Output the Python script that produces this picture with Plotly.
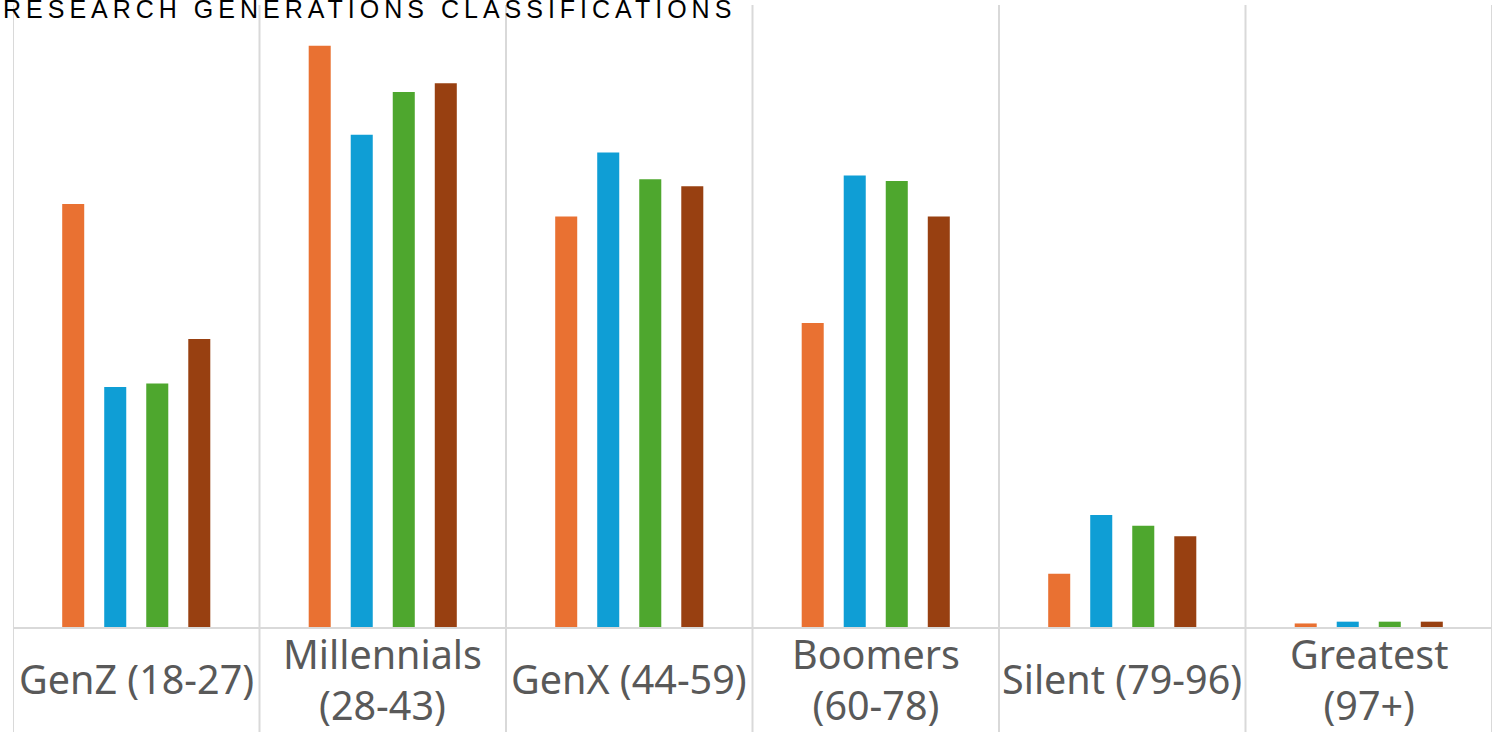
import plotly.graph_objects as go

categories = ["GenZ (18-27)", "Millennials (28-43)", "GenX (44-59)",
              "Boomers (60-78)", "Silent (79-96)", "Greatest (97+)"]
tick_labels = ["GenZ (18-27)", "Millennials<br>(28-43)", "GenX (44-59)",
               "Boomers<br>(60-78)", "Silent (79-96)", "Greatest<br>(97+)"]

series_names = ["Series 1", "Series 2", "Series 3", "Series 4"]
series_1 = [23.8, 32.7, 23.1, 17.1, 3.0, 0.2]
series_2 = [13.5, 27.7, 26.7, 25.4, 6.3, 0.3]
series_3 = [13.7, 30.1, 25.2, 25.1, 5.7, 0.3]
series_4 = [16.2, 30.6, 24.8, 23.1, 5.1, 0.3]
colors = ["#E97132", "#0F9ED5", "#4EA72E", "#984011"]

title_text = "RESEARCH GENERATIONS CLASSIFICATIONS"

fig = go.Figure()
for name, vals, col in zip(series_names, [series_1, series_2, series_3, series_4], colors):
    fig.add_trace(go.Bar(x=categories, y=vals, name=name, marker_color=col,
                         marker_line_width=0))

grid_color = "#D9D9D9"
shapes = []
for i in range(len(categories) + 1):
    shapes.append(dict(type="line", xref="x", yref="paper",
                       x0=i - 0.5, x1=i - 0.5, y0=-0.3, y1=1,
                       line=dict(color=grid_color, width=2), layer="below"))

annotations = []
for cat, lab in zip(categories, tick_labels):
    annotations.append(dict(x=cat, xref="x", yref="paper", y=0, yshift=-52,
                            xanchor="center", yanchor="middle", showarrow=False,
                            text=lab, align="center",
                            font=dict(family="Noto Sans", size=39.5, color="#595959")))
annotations.append(dict(xref="paper", yref="paper", x=(738 - 13) / 1479, y=1,
                        yshift=12, xanchor="right", yanchor="top", showarrow=False,
                        text='<span style="letter-spacing:5px">' + title_text + '</span>',
                        font=dict(family="Liberation Sans, Arial", size=25, color="#000000")))

fig.update_layout(
    width=1506, height=732,
    margin=dict(l=13, r=14, t=5, b=105),
    paper_bgcolor="white", plot_bgcolor="white",
    barmode="group", bargap=0.318, bargroupgap=0.476,
    showlegend=False,
    shapes=shapes, annotations=annotations,
    xaxis=dict(range=[-0.5, 5.5], showticklabels=False, showgrid=False,
               showline=True, linecolor=grid_color, linewidth=2, ticks="",
               zeroline=False, fixedrange=True),
    yaxis=dict(range=[0, 35], visible=False, showgrid=False, zeroline=False),
)

fig.write_html("out.html", config={"displayModeBar": False},
               post_script="document.body.style.margin='0';document.body.style.overflow='hidden';")
